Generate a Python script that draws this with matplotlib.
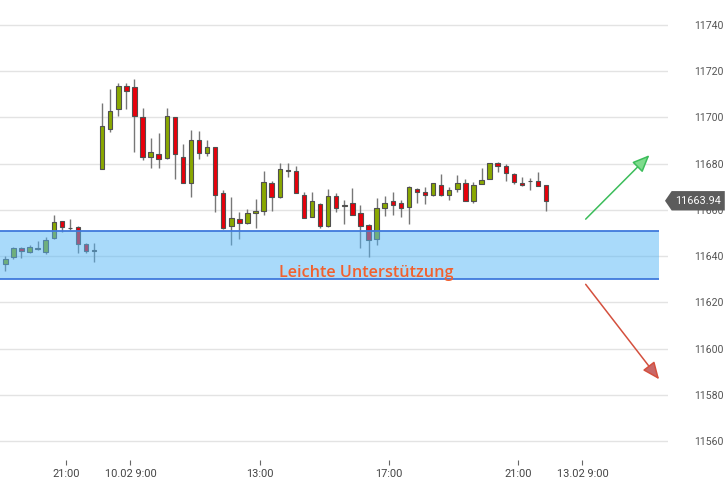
#!/usr/bin/env python
'''
Candlestick chart (15 min) with support zone and scenario arrows.
Writes out.png
'''

import matplotlib
matplotlib.use('Agg')
import matplotlib.pyplot as plt
from matplotlib.patches import FancyArrowPatch, Polygon
import matplotlib.transforms as mtransforms

plt.rcParams['font.family'] = ['Roboto', 'DejaVu Sans']

# 15 minute candles, index 0 .. 67
opens = [11636.7, 11639.5, 11643.6, 11641.6, 11642.9, 11641.9, 11647.7, 11655.0,
         11652.2, 11652.7, 11645.2, 11642.4, 11677.5, 11695.0, 11703.5, 11713.7,
         11713.0, 11700.0, 11683.0, 11684.0, 11682.3, 11700.0, 11683.0, 11671.5,
         11690.1, 11684.7, 11687.1, 11667.1, 11653.2, 11656.0, 11654.2, 11658.5,
         11659.7, 11671.5, 11665.4, 11677.0, 11676.8, 11666.4, 11657.1, 11662.6,
         11653.0, 11666.2, 11661.6, 11663.1, 11658.5, 11653.5, 11647.6, 11661.0,
         11663.8, 11662.8, 11661.1, 11669.2, 11667.9, 11666.4, 11670.8, 11666.4,
         11669.0, 11671.5, 11664.0, 11671.3, 11673.4, 11680.4, 11679.0, 11675.5,
         11671.6, 11672.3, 11672.6, 11670.8]
highs = [11640.0, 11644.0, 11643.8, 11644.6, 11646.5, 11648.4, 11657.6, 11655.3,
         11656.0, 11653.0, 11645.5, 11645.5, 11706.4, 11712.2, 11715.0, 11714.8,
         11716.6, 11703.9, 11691.0, 11693.1, 11703.9, 11700.3, 11688.4, 11694.6,
         11694.1, 11690.1, 11687.3, 11668.6, 11665.7, 11659.2, 11660.5, 11664.9,
         11676.8, 11672.5, 11680.2, 11680.2, 11679.1, 11667.9, 11667.9, 11662.8,
         11668.9, 11667.2, 11664.3, 11669.3, 11662.0, 11653.7, 11665.0, 11666.0,
         11667.9, 11664.3, 11670.2, 11669.4, 11670.0, 11671.7, 11675.5, 11670.0,
         11675.1, 11673.2, 11671.9, 11678.0, 11680.3, 11680.7, 11679.9, 11675.9,
         11674.1, 11673.6, 11676.5, 11670.9]
lows = [11633.7, 11638.6, 11639.0, 11641.3, 11642.6, 11640.8, 11647.2, 11650.6,
        11651.3, 11641.2, 11641.2, 11637.3, 11677.5, 11693.8, 11700.8, 11703.5,
        11685.2, 11681.6, 11678.3, 11678.3, 11682.0, 11673.2, 11671.5, 11665.7,
        11682.0, 11683.3, 11659.2, 11651.8, 11644.8, 11647.2, 11653.8, 11652.3,
        11657.8, 11659.7, 11665.2, 11674.1, 11667.3, 11656.4, 11656.8, 11652.0,
        11652.8, 11659.2, 11653.8, 11657.8, 11643.4, 11639.8, 11644.8, 11657.5,
        11657.8, 11656.8, 11653.7, 11663.1, 11662.4, 11666.1, 11666.1, 11664.3,
        11667.9, 11663.8, 11662.8, 11671.1, 11673.2, 11676.5, 11672.6, 11671.0,
        11670.3, 11668.6, 11670.3, 11659.7]
closes = [11638.6, 11643.6, 11642.3, 11644.1, 11643.6, 11647.0, 11654.6, 11652.7,
          11652.0, 11645.1, 11642.3, 11642.3, 11696.1, 11702.8, 11713.7, 11711.4,
          11700.6, 11683.0, 11685.2, 11681.9, 11700.6, 11684.0, 11671.5, 11690.1,
          11684.5, 11687.1, 11666.4, 11652.0, 11656.6, 11654.2, 11658.5, 11659.7,
          11672.2, 11665.7, 11677.6, 11676.8, 11667.5, 11656.6, 11663.8, 11653.2,
          11666.0, 11660.7, 11661.9, 11658.0, 11653.0, 11647.1, 11660.7, 11663.1,
          11662.1, 11661.0, 11670.0, 11667.9, 11666.4, 11671.5, 11666.4, 11668.6,
          11671.5, 11664.0, 11670.6, 11673.1, 11680.1, 11679.1, 11676.1, 11671.9,
          11670.8, 11672.6, 11670.3, 11663.94]

tick_pos = [7.5, 15.5, 31.5, 47.5, 63.5, 71.5]
tick_labels = ['21:00', '10.02 9:00', '13:00', '17:00', '21:00', '13.02 9:00']
price_ticks = [11560, 11580, 11600, 11620, 11640, 11660, 11680, 11700, 11720, 11740]

support_low, support_high = 11630.0, 11651.0
support_text = 'Leichte Unterstützung'
last_price = closes[-1]

up_arrow = ((71.9, 11656.0), (79.8, 11683.7))
down_arrow = ((71.9, 11627.8), (81.0, 11586.7))

GREEN = '#8aa800'
RED = '#e8000b'

fig = plt.figure(figsize=(7.27, 5.04), dpi=100)
ax = fig.add_axes([0.0, 1 - 460 / 504., 668 / 727., 460 / 504.])
ax.set_xlim(-0.66, 82.1)
ax.set_ylim(11551.8, 11750.8)

for s in ax.spines.values():
    s.set_visible(False)

ax.set_yticks(price_ticks)
ax.yaxis.tick_right()
ax.tick_params(axis='y', length=0, pad=19, labelsize=7.6, labelcolor='#555555')
ax.grid(axis='y', color='#e3e3e3', lw=1.0, zorder=0)
ax.set_axisbelow(True)

ax.set_xticks(tick_pos)
ax.set_xticklabels(tick_labels)
ax.tick_params(axis='x', length=3.3, width=0.8, color='#666666', pad=3,
               labelsize=7.9, labelcolor='#444444')

# candles
idx = list(range(len(closes)))
ax.vlines(idx, lows, highs, color='#777777', lw=1.0, zorder=2)
bottoms = [min(o, c) for o, c in zip(opens, closes)]
heights = [max(abs(c - o), 0.3) for o, c in zip(opens, closes)]
colors = [GREEN if c > o else RED for o, c in zip(opens, closes)]
ax.bar(idx, heights, bottom=bottoms, width=0.55, color=colors,
       edgecolor='#505050', linewidth=0.8, zorder=3)

# support zone
ax.fill_between([-0.66, 81.0], support_low, support_high, color='#55b6f6',
                alpha=0.5, lw=0, zorder=4)
ax.hlines([support_low, support_high], -0.66, 81.0, color='#3f79dc', lw=1.3, zorder=4)
ax.text(44.7, 11631.1, support_text, ha='center', va='baseline', color='#f2602e',
        fontsize=11.7, fontweight='semibold', family=['Open Sans', 'DejaVu Sans'],
        zorder=5)

# scenario arrows
for (p0, p1), lc, fc in [(up_arrow, '#3cbd5b', '#7edb8c'),
                         (down_arrow, '#d4503e', '#c96868')]:
    arr = FancyArrowPatch(p0, p1, arrowstyle='-|>,head_length=0.75,head_width=0.32',
                          mutation_scale=14, lw=1.1, ec=lc, fc=fc, zorder=5,
                          shrinkA=0, shrinkB=0)
    ax.add_patch(arr)

# last price tag
trans = mtransforms.blended_transform_factory(ax.transAxes, ax.transData)
hh = 4.2
tag = Polygon([(0.9955, last_price), (1.0055, last_price + hh), (1.085, last_price + hh),
               (1.085, last_price - hh), (1.0055, last_price - hh)],
              closed=True, transform=trans, clip_on=False, fc='#5c5c5c', ec='none', zorder=10)
ax.add_patch(tag)
ax.text(1.045, last_price, '%.2f' % last_price, transform=trans, ha='center', va='center',
        color='white', fontsize=7.8, clip_on=False, zorder=11)

fig.savefig('out.png', dpi=100)
